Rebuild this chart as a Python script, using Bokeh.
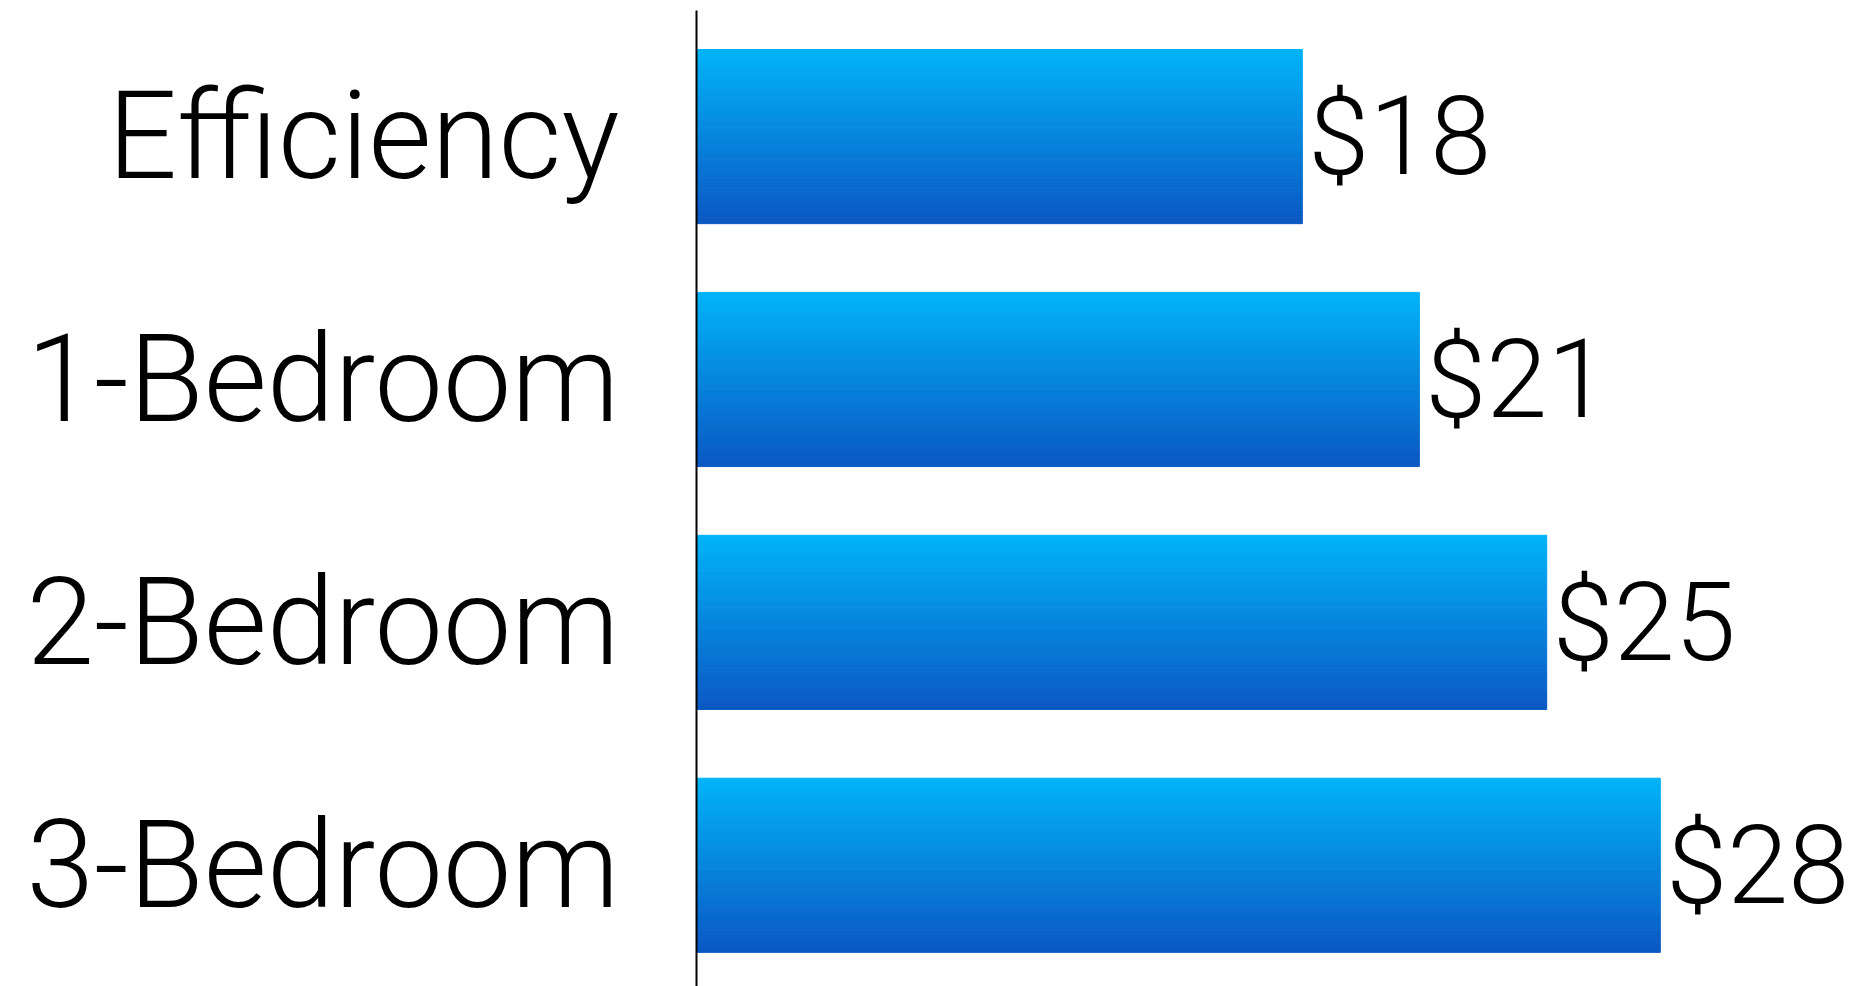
from bokeh.plotting import figure
from bokeh.models import Range1d, FixedTicker, ColumnDataSource
from bokeh.core.properties import value
from bokeh.embed import file_html
from bokeh.resources import INLINE

categories = ["Efficiency", "1-Bedroom", "2-Bedroom", "3-Bedroom"]
rents = [17.6, 21.0, 24.7, 28.0]
value_labels = ["$18", "$21", "$25", "$28"]

FONT = "Roboto Light, Roboto"
TOP_RGB = (2, 180, 248)
BOT_RGB = (11, 88, 194)
BAR_H = 0.717
N = 60

idx = list(range(len(categories)))

p = figure(width=1856, height=986, output_backend="svg", toolbar_location=None,
           x_range=Range1d(0, 33.7), y_range=Range1d(3.499, -0.519),
           x_axis_location=None, min_border_left=696, min_border_right=0,
           min_border_top=10, min_border_bottom=0)
p.outline_line_color = None
p.xgrid.visible = False
p.ygrid.visible = False
p.background_fill_color = "white"
p.border_fill_color = "white"

# gradient bars as thin horizontal strips
ys, rights, colors = [], [], []
for k in range(N):
    t = (k + 0.5) / N
    off = -BAR_H / 2 + t * BAR_H
    c = tuple(int(round(a + (b - a) * t)) for a, b in zip(TOP_RGB, BOT_RGB))
    col = "#%02x%02x%02x" % c
    for i, v in zip(idx, rents):
        ys.append(i + off)
        rights.append(v)
        colors.append(col)
src = ColumnDataSource(dict(y=ys, right=rights, color=colors))
p.hbar(y="y", left=0, right="right", height=BAR_H / N, fill_color="color",
       line_color="color", line_width=1, source=src)

lsrc = ColumnDataSource(dict(x=rents, y=idx, t=value_labels))
p.text(x="x", y="y", text="t", source=lsrc, x_offset=6, y_offset=0,
       text_align="left", text_baseline="middle", text_color="black",
       text_font=value(FONT), text_font_size="110px")

ax = p.yaxis[0]
ax.ticker = FixedTicker(ticks=idx)
ax.major_label_overrides = {i: c for i, c in zip(idx, categories)}
ax.axis_line_color = "black"
ax.axis_line_width = 2
ax.major_tick_line_color = None
ax.minor_tick_line_color = None
ax.major_tick_out = 0
ax.major_tick_in = 0
ax.major_label_standoff = 77
ax.major_label_text_font = FONT
ax.major_label_text_font_size = "122px"
ax.major_label_text_color = "black"

open("out.html", "w").write(file_html(p, INLINE))
